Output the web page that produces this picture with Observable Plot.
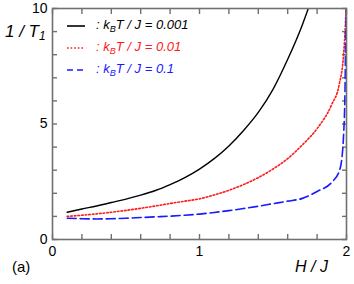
<!DOCTYPE html>
<html><head><meta charset="utf-8">
<script src="https://cdn.jsdelivr.net/npm/d3@7"></script>
<script src="https://cdn.jsdelivr.net/npm/@observablehq/plot@0.6"></script>
<style>
body{margin:0;background:#fff;font-family:"Liberation Sans",Arial,sans-serif;}
#wrap{position:relative;width:354px;height:284px;}
.t{position:absolute;white-space:nowrap;color:#000;}
.leg{position:absolute;left:67px;font-size:13px;font-style:italic;white-space:nowrap;}
.leg svg{position:absolute;left:0;top:6px;}
.leg span{position:absolute;left:29px;top:-1px;}
sub{font-size:70%;vertical-align:-3px;line-height:0;}
</style></head>
<body><div id="wrap"></div>
<script>
const H_black = [0.1,0.2,0.3,0.4,0.5,0.6,0.7,0.8,0.9,1.0,1.1,1.2,1.3,1.4,1.5,1.6,1.7,1.74];
const V_black = [1.18,1.32,1.45,1.60,1.75,1.92,2.12,2.38,2.68,3.05,3.50,4.05,4.72,5.50,6.50,7.80,9.30,10.0];
const H_red = [0.1,0.2,0.3,0.4,0.5,0.6,0.7,0.8,0.9,1.0,1.1,1.2,1.3,1.4,1.5,1.6,1.7,1.8,1.9,1.95,1.98,1.99,1.997];
const V_red = [1.00,1.05,1.11,1.18,1.26,1.35,1.45,1.56,1.66,1.76,1.93,2.13,2.38,2.68,3.05,3.50,4.10,4.80,5.85,6.70,8.00,9.00,10.0];
const H_blue = [0.1,0.2,0.3,0.4,0.5,0.6,0.7,0.8,0.9,1.0,1.1,1.2,1.3,1.4,1.5,1.6,1.7,1.8,1.9,1.95,1.97,1.98,1.99,1.995,2.0];
const V_blue = [0.92,0.90,0.89,0.90,0.92,0.95,0.98,1.01,1.05,1.10,1.17,1.25,1.34,1.44,1.55,1.66,1.78,2.08,2.48,2.95,3.60,4.50,6.50,9.00,10.0];
const xMinorTicks = [0,0.2,0.4,0.6,0.8,1,1.2,1.4,1.6,1.8,2];
const yMinorTicks = [0,1,2,3,4,5,6,7,8,9,10];
const xTickLabels = [0,1,2];
const yTickLabels = [0,5,10];
const seriesNames = ["0.001","0.01","0.1"];
const seriesColors = ["#000000","#ff1a1a","#1a1aff"];

const pts = (H,V)=>H.map((h,i)=>({h,v:V[i]}));
const frameColor = "#707070";
const tickOpts = {tickSize:-5, tickFormat:()=>"", stroke:frameColor, strokeWidth:1.4, label:null};
const plot = Plot.plot({
  width:354, height:284,
  marginLeft:52, marginRight:8, marginTop:8, marginBottom:45,
  x:{domain:[0,2]}, y:{domain:[0,10]},
  style:{fontFamily:"Liberation Sans, Arial, sans-serif", fontSize:"13px", color:"#000", background:"#fff"},
  marks:[
    Plot.axisX(xMinorTicks,{anchor:"bottom",...tickOpts}),
    Plot.axisX(xMinorTicks,{anchor:"top",...tickOpts}),
    Plot.axisY(yMinorTicks,{anchor:"left",...tickOpts}),
    Plot.axisY(yMinorTicks,{anchor:"right",...tickOpts}),
    Plot.axisX(xTickLabels,{anchor:"bottom",tickSize:0,tickPadding:7,fontSize:14,tickFormat:d=>String(d),label:null}),
    Plot.axisY(yTickLabels,{anchor:"left",tickSize:0,tickPadding:5,fontSize:14,tickFormat:d=>String(d),label:null}),
    Plot.line(pts(H_black,V_black),{x:"h",y:"v",stroke:seriesColors[0],strokeWidth:1.4,curve:"monotone-x",clip:true}),
    Plot.line(pts(H_red,V_red),{x:"h",y:"v",stroke:seriesColors[1],strokeWidth:1.6,strokeDasharray:"1.6,2",curve:"monotone-x",clip:true}),
    Plot.line(pts(H_blue,V_blue),{x:"h",y:"v",stroke:seriesColors[2],strokeWidth:1.6,strokeDasharray:"9,4",curve:"monotone-x",clip:true}),
    Plot.frame({stroke:frameColor,strokeWidth:1.6})
  ]
});
const wrap = document.getElementById("wrap");
wrap.appendChild(plot);
const dashes = ["none","1.6,2","6,4"];
const tops = [18,40,62];
seriesNames.forEach((n,i)=>{
  const d=document.createElement("div");
  d.className="leg"; d.style.top=tops[i]+"px"; d.style.color=seriesColors[i];
  d.innerHTML=`<svg width="20" height="4"><line x1="0" y1="2" x2="18" y2="2" stroke="${seriesColors[i]}" stroke-width="1.6" stroke-dasharray="${dashes[i]}"/></svg><span>: k<sub>B</sub>T / J = ${n}</span>`;
  wrap.appendChild(d);
});
const addT=(html,l,t,fs,it)=>{const d=document.createElement("div");d.className="t";d.innerHTML=html;d.style.left=l+"px";d.style.top=t+"px";d.style.fontSize=fs+"px";if(it)d.style.fontStyle="italic";wrap.appendChild(d);};
addT("1 / T<sub>1</sub>",5,22,17,true);
addT("H / J",295,258,16,true);
addT("(a)",12,258,15,false);
</script></body></html>
